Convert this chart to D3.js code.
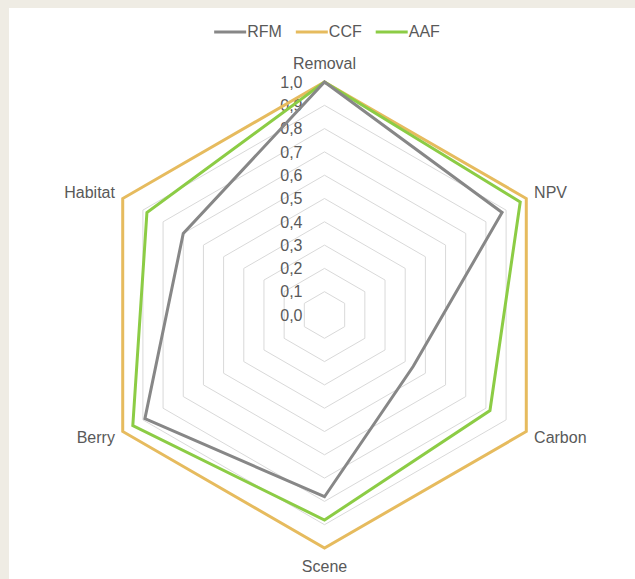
<!DOCTYPE html>
<html>
<head>
<meta charset="utf-8">
<title>Radar chart RFM CCF AAF</title>
<script src="https://d3js.org/d3.v7.min.js"></script>
<style>
  html, body { margin: 0; padding: 0; background: #efece4; }
  svg { display: block; }
  text { font-family: "Liberation Sans", Arial, sans-serif; fill: #595959; }
</style>
</head>
<body>
<script>
// categories (spokes, clockwise from top)
const axes = ["Removal", "NPV", "Carbon", "Scene", "Berry", "Habitat"];
// series values
const seriesNames = ["RFM", "CCF", "AAF"];
const rfm = [1.0, 0.88, 0.44, 0.78, 0.89, 0.70];
const ccf = [1.0, 1.0, 1.0, 1.0, 1.0, 1.0];
const aaf = [1.0, 0.97, 0.82, 0.88, 0.95, 0.88];
const seriesColors = ["#878787", "#e6bb5e", "#8ccc45"];
// tick labels
const ticks = [0, 0.1, 0.2, 0.3, 0.4, 0.5, 0.6, 0.7, 0.8, 0.9, 1.0];

const width = 635, height = 579;
const cx = 324.5, cy = 315, R = 233;

const svg = d3.select("body").append("svg")
    .attr("width", width)
    .attr("height", height);

// white chart panel on beige background
svg.append("rect")
    .attr("x", 9).attr("y", 8)
    .attr("width", width - 9).attr("height", height - 8)
    .attr("fill", "#ffffff");

const r = d3.scaleLinear().domain([0, 1]).range([0, R]);
const angle = d3.scalePoint().domain(axes.concat(["_end"])).range([0, 2 * Math.PI]);

const g = svg.append("g").attr("transform", `translate(${cx},${cy})`);

const radial = d3.lineRadial()
    .angle((d, i) => angle(axes[i]))
    .radius(d => r(d))
    .curve(d3.curveLinearClosed);

// grid rings
g.selectAll("path.ring")
    .data(ticks.filter(t => t > 0))
    .enter().append("path")
    .attr("class", "ring")
    .attr("d", t => radial(axes.map(() => t)))
    .attr("fill", "none")
    .attr("stroke", "#d9d9d9")
    .attr("stroke-width", 1);

// tick labels
g.selectAll("text.tick")
    .data(ticks)
    .enter().append("text")
    .attr("class", "tick")
    .attr("x", -22)
    .attr("y", t => -r(t) + 1.5)
    .attr("text-anchor", "end")
    .attr("dominant-baseline", "middle")
    .attr("font-size", 16)
    .text(t => d3.format(".1f")(t).replace(".", ","));

// series lines
const allSeries = [rfm, ccf, aaf];
const order = [1, 2, 0];
g.selectAll("path.series")
    .data(order)
    .enter().append("path")
    .attr("class", "series")
    .attr("d", i => radial(allSeries[i]))
    .attr("fill", "none")
    .attr("stroke", i => seriesColors[i])
    .attr("stroke-width", 3)
    .attr("stroke-linejoin", "miter");

// axis labels
g.selectAll("text.axis")
    .data(axes)
    .enter().append("text")
    .attr("class", "axis")
    .attr("x", d => Math.sin(angle(d)) * (R + 9))
    .attr("y", d => {
        const a = angle(d);
        const y = -Math.cos(a) * (R + 12);
        if (Math.abs(Math.sin(a)) < 0.01) return Math.cos(a) > 0 ? y - 5 : y + 8;
        return y + 1;
    })
    .attr("text-anchor", d => {
        const s = Math.sin(angle(d));
        return Math.abs(s) < 0.01 ? "middle" : (s > 0 ? "start" : "end");
    })
    .attr("dominant-baseline", "middle")
    .attr("font-size", 16)
    .text(d => d);

// legend
const legend = svg.append("g");
let lx = 0;
seriesNames.forEach((name, i) => {
    const item = legend.append("g").attr("transform", `translate(${lx},0)`);
    item.append("line")
        .attr("x1", 0).attr("x2", 32)
        .attr("y1", 0).attr("y2", 0)
        .attr("stroke", seriesColors[i])
        .attr("stroke-width", 3);
    const t = item.append("text")
        .attr("x", 33).attr("y", 1)
        .attr("dominant-baseline", "middle")
        .attr("font-size", 16)
        .text(name);
    lx += 33 + t.node().getComputedTextLength() + 14;
});
const legendW = lx - 14;
legend.attr("transform", `translate(${327 - legendW / 2},32)`);
</script>
</body>
</html>
